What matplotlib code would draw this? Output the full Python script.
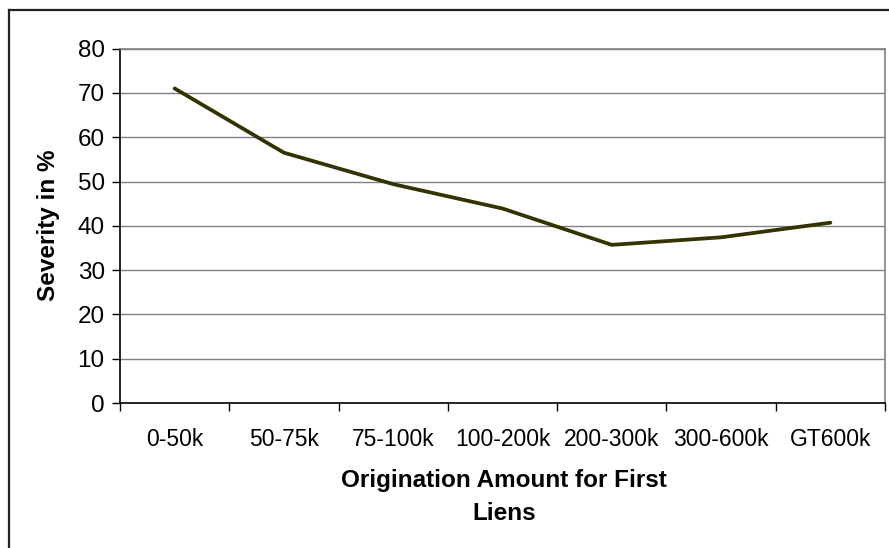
import matplotlib
matplotlib.use("Agg")
import matplotlib.pyplot as plt
from matplotlib.lines import Line2D

plt.rcParams['font.family'] = ['Liberation Sans', 'DejaVu Sans']

categories = ["0-50k", "50-75k", "75-100k", "100-200k", "200-300k", "300-600k", "GT600k"]
severity = [71.0, 56.5, 49.4, 43.9, 35.7, 37.4, 40.7]
y_ticks = [0, 10, 20, 30, 40, 50, 60, 70, 80]

fig = plt.figure(figsize=(8.89, 5.48), dpi=100)
ax = fig.add_axes([120 / 889, 1 - 403 / 548, 765 / 889, (403 - 48.6) / 548])

n = len(categories)
xs = [i + 0.5 for i in range(n)]
ax.plot(xs, severity, color="#333300", linewidth=2.7, solid_capstyle="round", zorder=3)

ax.set_xlim(0, n)
ax.set_ylim(0, 80)

# y axis
ax.set_yticks(y_ticks)
ax.set_yticklabels([str(v) for v in y_ticks], fontsize=17.5)
ax.yaxis.grid(True, color="#808080", linewidth=1.0)
ax.tick_params(axis="y", direction="out", length=6, width=1, color="black", pad=5)

# x axis: ticks at category boundaries, labels centred in each category
ax.set_xticks(range(n + 1))
ax.set_xticklabels([""] * (n + 1))
ax.set_xticks(xs, minor=True)
ax.set_xticklabels(categories, minor=True, fontsize=16.5)
ax.tick_params(axis="x", which="major", direction="out", length=6, width=1, color="black")
ax.tick_params(axis="x", which="minor", length=0, pad=18)

for side in ("left", "bottom"):
    ax.spines[side].set_color("black")
    ax.spines[side].set_linewidth(1.2)
for side in ("top", "right"):
    ax.spines[side].set_color("#808080")
    ax.spines[side].set_linewidth(1.2)

ax.set_axisbelow(True)

fig.text(49 / 889, 1 - 225 / 548, "Severity in %", rotation=90, fontsize=17.5,
         fontweight="bold", ha="center", va="center")
fig.text(504 / 889, 1 - 497 / 548, "Origination Amount for First\nLiens", fontsize=17.5,
         fontweight="bold", ha="center", va="center", linespacing=1.55)

# outer frame (top and left edges)
fig.add_artist(Line2D([9 / 889, 1.0], [1 - 10 / 548, 1 - 10 / 548], transform=fig.transFigure,
                      color="#222222", linewidth=1.6))
fig.add_artist(Line2D([9 / 889, 9 / 889], [0.0, 1 - 10 / 548], transform=fig.transFigure,
                      color="#222222", linewidth=1.6))

fig.savefig("out.png", dpi=100)
